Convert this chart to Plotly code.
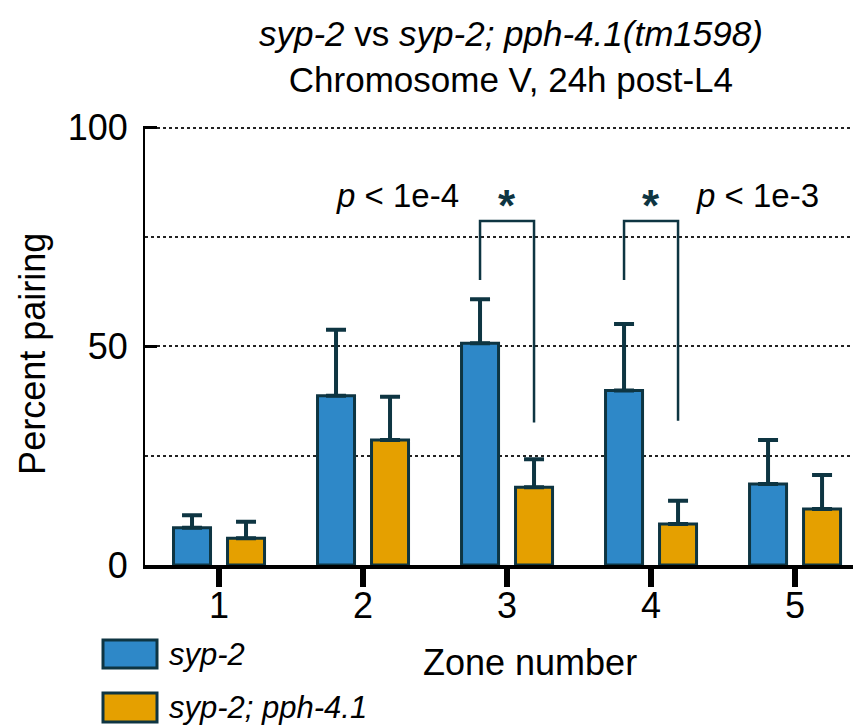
import plotly.graph_objects as go

# ---- data ----
zones = [1, 2, 3, 4, 5]
zone_labels = ["1", "2", "3", "4", "5"]
series_names = ["syp-2", "syp-2; pph-4.1"]
syp2_mean = [8.5, 38.7, 50.7, 39.9, 18.5]
syp2_err = [2.9, 15.1, 10.1, 15.2, 10.1]
pph_mean = [6.1, 28.6, 17.8, 9.4, 12.8]
pph_err = [3.8, 9.9, 6.4, 5.3, 7.8]
no_err = [0, 0, 0, 0, 0]
y_ticks = [0, 50, 100]

sig_zones = [3, 4]
sig_labels = ["p < 1e-4", "p < 1e-3"]
bracket_top = [78.7, 78.7]
bracket_left_bottom = [65.2, 65.2]
bracket_right_bottom = [32.6, 33.0]

# ---- style ----
BLUE = "#2E88C8"
ORANGE = "#E5A000"
DARK = "#0E3542"
FONT = "Liberation Sans"
BW = 0.257
OFF_B = -0.316
OFF_O = 0.059
HALF = 0.1875

# page offset of the plot (browser body margin)
PAGE_OFF = 8
W, H = 861 - PAGE_OFF, 728 - PAGE_OFF
YMAX = 100.4
# plot-area pixel geometry in the final screenshot
L, R, B = 145, 861, 565
T = 128 - (YMAX - 100) * 4.37


def px(x):
    return (x - L) / (R - L)


def py(y):
    return (B - y) / (B - T)


fig = go.Figure()
for name, mean, err, col, off in [
    (series_names[0], syp2_mean, syp2_err, BLUE, OFF_B),
    (series_names[1], pph_mean, pph_err, ORANGE, OFF_O),
]:
    fig.add_trace(go.Bar(
        x=zones, y=mean, name=name, width=BW, offset=off,
        marker=dict(color=col, line=dict(color=DARK, width=3)),
        error_y=dict(type="data", array=err, arrayminus=no_err, symmetric=False,
                     color=DARK, thickness=4, width=10),
        showlegend=False,
    ))

# significance brackets
for z, top, lb, rb in zip(sig_zones, bracket_top, bracket_left_bottom, bracket_right_bottom):
    fig.add_trace(go.Scatter(
        x=[z - HALF, z - HALF, z + HALF, z + HALF],
        y=[lb, top, top, rb],
        mode="lines", line=dict(color=DARK, width=2.5),
        showlegend=False, hoverinfo="skip",
    ))
    fig.add_annotation(x=z, y=83.5, text="<b>*</b>", showarrow=False,
                       font=dict(family=FONT, size=44, color=DARK),
                       xanchor="center", yanchor="middle", yshift=-6)

fig.add_annotation(x=sig_zones[0] - 0.32, y=83.5, text="<i>p</i> &lt; 1e-4",
                   showarrow=False, xanchor="right", yanchor="middle", yshift=4,
                   font=dict(family=FONT, size=33, color="black"))
fig.add_annotation(x=sig_zones[1] + 0.30, y=83.5, text="<i>p</i> &lt; 1e-3",
                   showarrow=False, xanchor="left", yanchor="middle", yshift=4,
                   font=dict(family=FONT, size=33, color="black"))

# title
fig.add_annotation(xref="paper", yref="paper", x=px(511), y=py(57),
                   text="<i>syp-2</i> vs <i>syp-2; pph-4.1(tm1598)</i><br>Chromosome V, 24h post-L4",
                   showarrow=False, xanchor="center", yanchor="middle",
                   font=dict(family=FONT, size=35, color="black"))
# axis titles
fig.add_annotation(xref="paper", yref="paper", x=px(530), y=py(662),
                   text="Zone number", showarrow=False, xanchor="center", yanchor="middle",
                   font=dict(family=FONT, size=36, color="black"))
fig.add_annotation(xref="paper", yref="paper", x=px(33), y=py(354),
                   text="Percent pairing", showarrow=False, textangle=-90,
                   xanchor="center", yanchor="middle",
                   font=dict(family=FONT, size=36, color="black"))

# custom legend
for name, col, y0, y1 in [(series_names[0], BLUE, 640, 668), (series_names[1], ORANGE, 693, 722)]:
    fig.add_shape(type="rect", xref="paper", yref="paper",
                  x0=px(103), x1=px(157), y0=py(y0), y1=py(y1),
                  fillcolor=col, line=dict(color=DARK, width=3))
    fig.add_annotation(xref="paper", yref="paper", x=px(167), y=py((y0 + y1) / 2),
                       text=f"<i>{name}</i>", showarrow=False, xanchor="left", yanchor="middle",
                       font=dict(family=FONT, size=31, color="black"))

fig.update_layout(
    width=W, height=H,
    margin=dict(l=L - PAGE_OFF, r=0, t=T - PAGE_OFF, b=H - (B - PAGE_OFF), pad=0),
    plot_bgcolor="white", paper_bgcolor="white",
    font=dict(family=FONT, color="black"),
    barmode="overlay",
    showlegend=False,
)
fig.update_xaxes(
    range=[0.486, 5.458], tickvals=zones, ticktext=zone_labels,
    showline=True, linecolor="black", linewidth=4,
    ticks="outside", ticklen=18, tickwidth=6, tickcolor="black",
    tickfont=dict(family=FONT, size=36, color="black"),
    ticklabelstandoff=-12,
    showgrid=False, zeroline=False,
)
fig.update_yaxes(
    range=[0, YMAX], tickvals=y_ticks,
    showline=True, linecolor="black", linewidth=2,
    ticks="inside", ticklen=12, tickwidth=3, tickcolor="black",
    tickfont=dict(family=FONT, size=36, color="black"),
    ticklabelstandoff=8,
    showgrid=True, gridcolor="#222222", gridwidth=1.5, griddash="dot",
    minor=dict(dtick=25, showgrid=True, gridcolor="#222222", gridwidth=1.5, griddash="dot", ticklen=0),
    zeroline=False,
)

fig.write_html("out.html")
